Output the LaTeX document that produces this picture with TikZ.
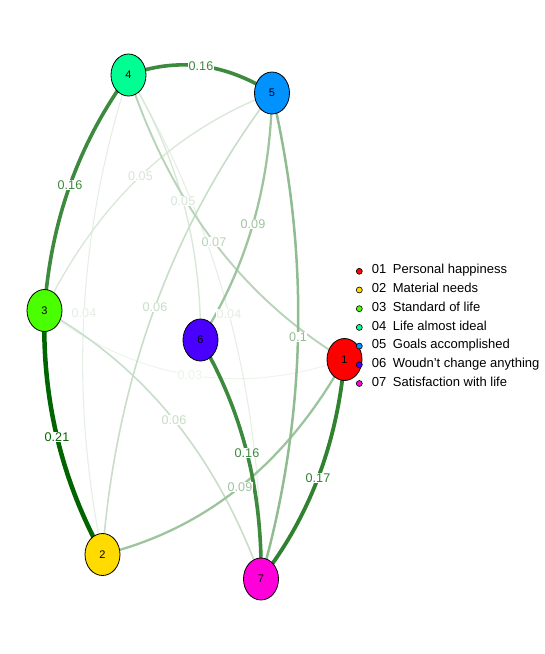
\documentclass[tikz,border=0pt]{standalone}
\usepackage{fontspec}
\setmainfont{Liberation Sans}
\usetikzlibrary{calc,shapes.geometric}
\definecolor{dg}{RGB}{0,100,0}
\definecolor{c1}{HTML}{FF0000}
\definecolor{c2}{HTML}{FFDB00}
\definecolor{c3}{HTML}{49FF00}
\definecolor{c4}{HTML}{00FF92}
\definecolor{c5}{HTML}{0092FF}
\definecolor{c6}{HTML}{4900FF}
\definecolor{c7}{HTML}{FF00DB}
\pgfdeclarelayer{bg}
\pgfsetlayers{bg,main}
\newcommand\gedge[4]{%
  \draw[#1] (#2.center) .. controls ($(#3.center)!4/3!(#4)$) and ($(#2.center)!4/3!(#4)$) .. (#3.center);}
\tikzset{
  vtx/.style={ellipse, draw=black, line width=0.8pt, minimum width=35pt, minimum height=42pt, inner sep=0pt, font=\fontsize{11}{12}\selectfont},
  wt/.style 2 args={draw=dg!#1!white, line width=#2pt},
  elab/.style={text=dg!#1!white, fill=white, inner sep=0.6pt, font=\fontsize{12.6}{14}\selectfont},
  ldot/.style={circle, draw=black, line width=0.6pt, minimum size=6pt, inner sep=0pt},
  ltxt/.style={anchor=mid west, inner sep=0pt, font=\fontsize{13}{15}\selectfont}
}
\begin{document}
\begin{tikzpicture}[x=1pt,y=-1pt]
\useasboundingbox (0,0) rectangle (545,654);
% vertices
\node[vtx, fill=c1] (n1) at (344.5,359.5) {1};
\node[vtx, fill=c2] (n2) at (102.5,554.5) {2};
\node[vtx, fill=c3] (n3) at (44.5,310.5) {3};
\node[vtx, fill=c4] (n4) at (128.5,75) {4};
\node[vtx, fill=c5] (n5) at (272,93) {5};
\node[vtx, fill=c6] (n6) at (200.5,340) {6};
\node[vtx, fill=c7] (n7) at (261,579) {7};
% label points (edge midpoints)
\coordinate (m45) at (201,66);
\coordinate (m34) at (70,185);
\coordinate (m53) at (140.5,176);
\coordinate (m46) at (183,201);
\coordinate (m56) at (253,224);
\coordinate (m41) at (214,242);
\coordinate (m42) at (84,313);
\coordinate (m52) at (155,307);
\coordinate (m47) at (229,314);
\coordinate (m57) at (298,337);
\coordinate (m31) at (190,375);
\coordinate (m32) at (57,437);
\coordinate (m37) at (174,420);
\coordinate (m67) at (247,453);
\coordinate (m12) at (240,487);
\coordinate (m17) at (318,478);
\begin{pgfonlayer}{bg}
\gedge{wt={7}{1.0}}{n3}{n1}{m31}
\gedge{wt={10}{1.1}}{n4}{n2}{m42}
\gedge{wt={10}{1.1}}{n4}{n7}{m47}
\gedge{wt={15}{1.4}}{n5}{n3}{m53}
\gedge{wt={15}{1.4}}{n4}{n6}{m46}
\gedge{wt={21}{1.6}}{n5}{n2}{m52}
\gedge{wt={21}{1.6}}{n3}{n7}{m37}
\gedge{wt={28}{1.9}}{n4}{n1}{m41}
\gedge{wt={38}{2.3}}{n5}{n6}{m56}
\gedge{wt={38}{2.3}}{n1}{n2}{m12}
\gedge{wt={43}{2.5}}{n5}{n7}{m57}
\gedge{wt={76}{3.6}}{n4}{n5}{m45}
\gedge{wt={76}{3.6}}{n3}{n4}{m34}
\gedge{wt={76}{3.6}}{n6}{n7}{m67}
\gedge{wt={81}{3.8}}{n1}{n7}{m17}
\gedge{wt={100}{4.5}}{n3}{n2}{m32}
% edge labels
\node[elab=8] (l31) at (m31) {0.03};
\node[elab=11] (l42) at (m42) {0.04};
\node[elab=11] (l47) at (m47) {0.04};
\node[elab=16] (l53) at (m53) {0.05};
\node[elab=16] (l46) at (m46) {0.05};
\node[elab=22] (l52) at (m52) {0.06};
\node[elab=22] (l37) at (m37) {0.06};
\node[elab=28] (l41) at (m41) {0.07};
\node[elab=38] (l56) at (m56) {0.09};
\node[elab=38] (l12) at (m12) {0.09};
\node[elab=43] (l57) at (m57) {0.1};
\node[elab=76] (l45) at (m45) {0.16};
\node[elab=76] (l34) at (m34) {0.16};
\node[elab=76] (l67) at (m67) {0.16};
\node[elab=81] (l17) at (m17) {0.17};
\node[elab=100] (l32) at (m32) {0.21};
\end{pgfonlayer}
% legend
\foreach \i/\t [evaluate=\i as \yy using {271.3+18.7*(\i-1)}] in {1/Personal happiness,2/Material needs,3/Standard of life,4/Life almost ideal,5/Goals accomplished,6/Woudn't change anything,7/Satisfaction with life}{
  \node[ldot, fill=c\i] (d\i) at (359.3,\yy) {};
  \node[ltxt] (k\i) at (371.7,\yy) {0\i};
  \node[ltxt] (t\i) at (392.7,\yy) {\t};
}
\end{tikzpicture}
\end{document}
